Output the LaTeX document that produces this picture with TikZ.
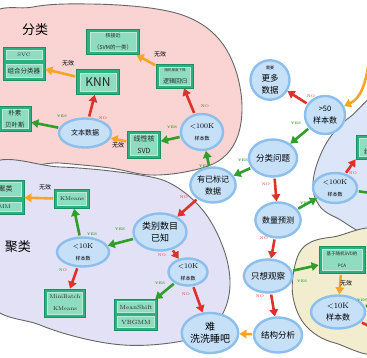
\documentclass[tikz,border=0pt]{standalone}
\usepackage{fontspec}
\usepackage{tikz}
\usepackage{xcolor}
\usetikzlibrary{shapes.geometric,arrows.meta}
\newfontfamily\cjk{Noto Sans CJK SC}
\definecolor{pinkbg}{HTML}{FAD3D3}
\definecolor{lavbg}{HTML}{E3E1F6}
\definecolor{bluebg}{HTML}{DCE6F8}
\definecolor{beigebg}{HTML}{F3EDD0}
\definecolor{rim}{HTML}{666666}
\definecolor{qfill}{HTML}{C6E0F8}
\definecolor{qline}{HTML}{8CBFEC}
\definecolor{algofill}{HTML}{2BB07F}
\definecolor{algoline}{HTML}{1F8F63}
\definecolor{algoinner}{HTML}{8EDDC0}
\definecolor{yescol}{HTML}{2F9E2A}
\definecolor{nocol}{HTML}{E0302B}
\definecolor{nopecol}{HTML}{F6A623}
\newcommand{\fs}[2]{\fontsize{#1}{#2}\selectfont}

\begin{document}
\begin{tikzpicture}[x=1pt,y=-1pt,
  region/.style={draw=rim,line width=0.9pt},
  ask/.style 2 args={ellipse,draw=qline,fill=qfill,line width=2.4pt,inner sep=0pt,align=center,font=\cjk,minimum width=#1,minimum height=#2},
  algo/.style 2 args={rectangle,draw=algoline,fill=algofill,line width=0.8pt,minimum width=#1,minimum height=#2},
  algoin/.style 2 args={rectangle,draw=algoinner!60!white,fill=algoinner,line width=0.4pt,inner sep=0.5pt,align=center,font=\cjk,text=black!85,minimum width=#1,minimum height=#2},
  yes/.style={draw=yescol,line width=2.6pt,shorten <=1pt,-{Triangle[length=7pt,width=8.5pt]}},
  no/.style={draw=nocol,line width=2.6pt,shorten <=1pt,-{Triangle[length=7pt,width=8.5pt]}},
  nope/.style={draw=nopecol,line width=2.6pt,shorten <=1pt,-{Triangle[length=7pt,width=8.5pt]}},
  yeslab/.style={font=\bfseries\fs{3.5}{4},text=yescol,inner sep=0pt},
  nolab/.style={font=\fs{4}{4},text=nocol,inner sep=0pt},
  nopelab/.style={font=\cjk\fs{6}{6},inner sep=0pt}]
\useasboundingbox (0,0) rectangle (367,358);
\clip (0,0) rectangle (367,358);
\fill[white] (0,0) rectangle (367,358);

\draw[region,fill=pinkbg] plot[smooth cycle,tension=0.6] coordinates {(-15,25) (33,7) (90,4) (150,8) (190,18) (218,38) (235,68) (242,105) (237,138) (220,160) (190,171) (150,175) (110,168) (60,163) (-15,157)};
\draw[region,fill=lavbg] plot[smooth cycle,tension=0.6] coordinates {(-15,170) (60,167) (140,175) (175,186) (205,213) (224,250) (230,285) (222,315) (200,336) (150,345) (100,342) (40,325) (-15,295)};
\draw[region,fill=bluebg] plot[smooth cycle,tension=0.6] coordinates {(385,100) (350,117) (327,142) (314,175) (316,200) (335,217) (385,230)};
\draw[region,fill=beigebg] plot[smooth cycle,tension=0.6] coordinates {(385,236) (333,237) (306,245) (295,265) (293,297) (306,326) (335,343) (385,347)};

\node[font=\cjk\fs{13}{13}] (clslab) at (35,30) {分类};
\node[font=\cjk\fs{13}{13}] (clulab) at (18,247) {聚类};

\node[ask={39pt}{39pt}] (more) at (270,80) {\fs{4}{5}需要\\\fs{8.5}{9}更多\\\fs{8.5}{9}数据};
\node[ask={40pt}{38pt}] (gt50) at (325,115) {\fs{7.5}{8}>50\\\fs{8}{9}样本数};
\node[ask={42pt}{37pt}] (cls) at (273,158) {\fs{8.5}{9}分类问题};
\node[ask={42pt}{36pt}] (lt100c) at (202,132) {\rmfamily\fs{7}{8}<100K\\\fs{5}{6}样本数};
\node[ask={45pt}{35pt}] (labeled) at (213,185) {\fs{8}{9}有已标记\\\fs{8}{9}数据};
\node[ask={42pt}{35pt}] (qty) at (278,220) {\fs{8}{9}数量预测};
\node[ask={44pt}{30pt}] (lt100r) at (335,188) {\rmfamily\fs{7}{8}<100K\\\fs{5}{6}样本数};
\node[ask={43pt}{33pt}] (obs) at (268,276) {\fs{8.5}{9}只想观察};
\node[ask={43pt}{35pt}] (struct) at (278,335) {\fs{8.5}{9}结构分析};
\node[ask={50pt}{40pt}] (tough) at (210,333) {\fs{10}{10.5}难\\\fs{10}{10.5}洗洗睡吧};
\node[ask={39pt}{27pt}] (lt10kb) at (188,272) {\rmfamily\fs{7}{7}<10K\\\fs{5}{6}样本数};
\node[ask={53pt}{37pt}] (known) at (160,232) {\fs{9}{10}类别数目\\\fs{9}{10}已知};
\node[ask={52pt}{29pt}] (lt10ka) at (83,252) {\rmfamily\fs{7}{7}<10K\\\fs{5}{6}样本数};
\node[ask={52pt}{29pt}] (txt) at (85,133) {\fs{7}{7.5}文本数据};
\node[ask={54pt}{33pt}] (lt10kd) at (338,312) {\rmfamily\fs{8}{8}<10K\\\fs{8}{9}样本数};

\node[algo={42pt}{33pt}] (svc) at (24,64) {};
\node[algoin={36pt}{9pt}] (svcin) at (24,55) {\rmfamily\fs{5}{5}SVC};
\node[algoin={36pt}{13pt}] (ensin) at (24,71) {\fs{6.5}{7}组合分类器};
\node[algo={53pt}{25pt}] (kapx) at (113,42) {};
\node[algoin={46pt}{19pt}] (kapxin) at (kapx) {\fs{5}{6}核接近\\\fs{5.5}{6}（SVM的一类）};
\node[algo={43pt}{25pt}] (knn) at (98,82) {};
\node[algoin={36pt}{18pt}] (knnin) at (knn) {\fs{12}{12}KNN};
\node[algo={37pt}{24pt}] (sgd) at (175,76) {};
\node[algoin={31pt}{18pt}] (sgdin) at (sgd) {\fs{3.5}{4.5}随机梯度下降\\\fs{6}{7}逻辑回归};
\node[algo={32pt}{25pt}] (nb) at (15,119) {};
\node[algoin={26pt}{19pt}] (nbin) at (nb) {\fs{6.5}{7.5}朴素\\\fs{6.5}{7.5}贝叶斯};
\node[algo={33pt}{27pt}] (linsvd) at (144,145) {};
\node[algoin={27pt}{21pt}] (linsvdin) at (linsvd) {\fs{7}{8}线性核\\\fs{7}{8}SVD};
\node[algo={35pt}{19pt}] (kmeans) at (72,199) {};
\node[algoin={29pt}{13pt}] (kmeansin) at (kmeans) {\rmfamily\fs{5.5}{6}KMeans};
\node[algo={44pt}{34pt}] (spec) at (2,197) {};
\node[algoin={38pt}{14pt}] (specin) at (2,189) {\fs{7}{7}谱聚类};
\node[algoin={38pt}{9pt}] (gmmin) at (2,207) {\rmfamily\fs{5.5}{6}GMM};
\node[algo={41pt}{28pt}] (mbk) at (65,303) {};
\node[algoin={35pt}{22pt}] (mbkin) at (mbk) {\rmfamily\fs{5.5}{7}MiniBatch\\\rmfamily\fs{5.5}{7}KMeans};
\node[algo={43pt}{31pt}] (msh) at (136,315) {};
\node[algoin={37pt}{11pt}] (mshin) at (136,307) {\rmfamily\fs{6}{6}MeanShift};
\node[algoin={37pt}{11pt}] (vbin) at (136,322) {\rmfamily\fs{6}{6}VBGMM};
\node[algo={46pt}{27pt}] (pca) at (342,260) {};
\node[algoin={40pt}{21pt}] (pcain) at (pca) {\fs{4.5}{5.5}基于随机SVD的\\\fs{4.5}{5.5}PCA};
\node[algo={44pt}{24pt}] (linreg) at (378,147) {};
\node[algoin={38pt}{18pt}] (linregin) at (linreg) {\fs{3.5}{4.5}随机梯度下降\\\fs{7}{8}线性回归};

\coordinate (offtop) at (369,62);
\coordinate (offr) at (385,195);
\coordinate (offd1) at (385,302);
\coordinate (offd2) at (385,333);

\draw[nope] (offtop) to[out=-100,in=25] (gt50);
\draw[no] (gt50) -- (more);
\draw[yes] (gt50) -- (cls);
\draw[yes] (cls) -- (labeled);
\draw[yes] (labeled) -- (lt100c);
\draw[no] (lt100c) -- ([xshift=9pt]sgd.south);
\draw[yes] (lt100c) -- (linsvd);
\draw[nope] (linsvd) -- (txt);
\draw[yes] (txt) -- (nb);
\draw[no] (txt) -- (knn);
\draw[nope] (knn) -- (svc);
\draw[nope] (sgd) -- (kapx);
\draw[no] (labeled) -- (known);
\draw[no] (cls) -- (qty);
\draw[yes] (qty) -- (lt100r);
\draw[no] (lt100r) -- (linreg.south west);
\draw[yes] (lt100r) -- (offr);
\draw[no] (qty) -- (obs);
\draw[yes] (obs) -- (pca);
\draw[nope] (pca) -- (lt10kd);
\draw[yes] (lt10kd) -- (offd1);
\draw[no] (lt10kd) -- (offd2);
\draw[no] (obs) -- (struct);
\draw[nope] (struct) -- (tough);
\draw[no] (lt10kb) -- (tough);
\draw[yes] (lt10kb) -- (msh);
\draw[no] (known) -- (lt10kb);
\draw[yes] (known) -- (lt10ka);
\draw[yes] (lt10ka) -- (kmeans);
\draw[no] (lt10ka) -- (mbk);
\draw[nope] (kmeans) -- (spec);

\node[nolab] (l1) at (311,96) {NO};
\node[yeslab] (l2) at (296,123) {YES};
\node[yeslab] (l3) at (243,160) {YES};
\node[yeslab] (l4) at (204,166) {YES};
\node[nolab] (l5) at (205,106) {NO};
\node[yeslab] (l6) at (172,127) {YES};
\node[nopelab] (l7) at (118,145) {无效};
\node[yeslab] (l8) at (62,116) {YES};
\node[nolab] (l9) at (103,118) {NO};
\node[nopelab] (l10) at (68,63) {无效};
\node[nopelab] (l11) at (160,54) {无效};
\node[nolab] (l12) at (184,197) {NO};
\node[nolab] (l13) at (266,184) {NO};
\node[yeslab] (l14) at (305,203) {YES};
\node[nolab] (l15) at (353,173) {NO};
\node[nolab] (l16) at (264,238) {NO};
\node[yeslab] (l17) at (302,281) {YES};
\node[nopelab] (l18) at (346,283) {无效};
\node[yeslab] (l19) at (362,300) {YES};
\node[nolab] (l20) at (260,296) {NO};
\node[nolab] (l21) at (186,294) {NO};
\node[yeslab] (l22) at (160,283) {YES};
\node[nolab] (l23) at (162,255) {NO};
\node[yeslab] (l24) at (120,229) {YES};
\node[yeslab] (l25) at (92,234) {YES};
\node[nolab] (l26) at (63,270) {NO};
\node[nopelab] (l27) at (45,187) {无效};
\end{tikzpicture}
\end{document}
